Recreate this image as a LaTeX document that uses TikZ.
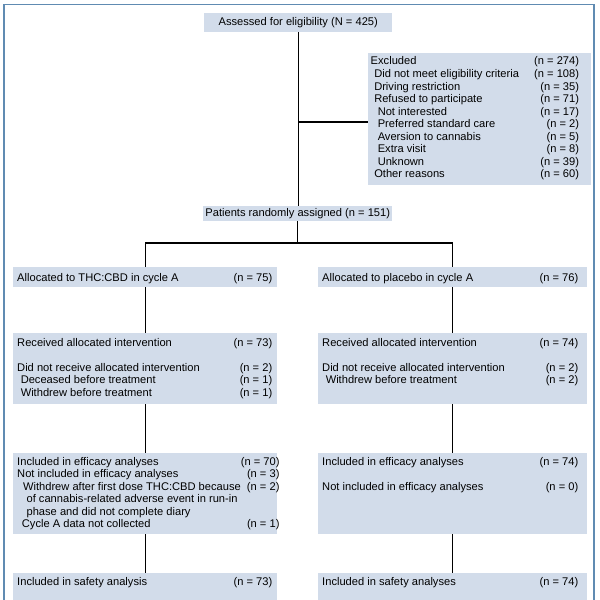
\documentclass[tikz,border=0pt]{standalone}
\usepackage{fontspec}
\setmainfont{Liberation Sans}
\definecolor{boxfill}{RGB}{210,220,234}
\definecolor{framecol}{RGB}{96,139,178}
\newcommand{\px}{0.03cm}
\newcommand{\counts}[2]{\begin{tabular*}{#1}[t]{@{}l@{\extracolsep{\fill}}r@{}}#2\end{tabular*}}
\tikzset{
  box/.style 2 args={fill=boxfill, inner sep=0pt, anchor=north west,
    minimum width=#1*\px, minimum height=#2*\px},
  rows/.style={anchor=base west, inner sep=0pt},
  link/.style={line width=1.1pt},
  frame/.style={draw=framecol, line width=0.9pt}
}
\begin{document}
\begin{tikzpicture}[x=0.03cm, y=-0.03cm, font=\fontsize{9.5}{10.7}\selectfont, text=black]
    % 1. Khung ngoai
    \path[use as bounding box] (0,0) rectangle (600,600);
    \clip (0,0) rectangle (600,600);
    \draw[frame] (4,610) -- (4,4.5) -- (594,4.5) -- (594,610);

    % 2. Sang loc va loai tru
    \node[box={188}{19}] (assess) at (204,13) {Assessed for eligibility (N = 425)};
    \node[box={223}{132}] (excl) at (368,53) {};
    \node[rows] (exclt) at ([shift={(2.5,12)}]excl.north west) {\counts{6.25cm}{
        Excluded & (n = 274)\\
        \hspace{3pt}Did not meet eligibility criteria & (n = 108)\\
        \hspace{3pt}Driving restriction & (n = 35)\\
        \hspace{3pt}Refused to participate & (n = 71)\\
        \hspace{6pt}Not interested & (n = 17)\\
        \hspace{6pt}Preferred standard care & (n = 2)\\
        \hspace{6pt}Aversion to cannabis & (n = 5)\\
        \hspace{6pt}Extra visit & (n = 8)\\
        \hspace{6pt}Unknown & (n = 39)\\
        \hspace{3pt}Other reasons & (n = 60)}};
    \node[box={189}{15}] (rand) at (203,206) {Patients randomly assigned (n = 151)};

    % 3. Nhanh THC:CBD (trai)
    \node[box={264}{20}] (allocL) at (13,267) {};
    \node[rows] at ([shift={(4,14)}]allocL.north west) {\counts{7.65cm}{
        Allocated to THC:CBD in cycle A & (n = 75)}};
    \node[box={264}{71}] (recvL) at (13,333) {};
    \node[rows] at ([shift={(4,13)}]recvL.north west) {\counts{7.65cm}{
        Received allocated intervention & (n = 73)\\
        & \\
        Did not receive allocated intervention & (n = 2)\\
        \hspace{3pt}Deceased before treatment & (n = 1)\\
        \hspace{3pt}Withdrew before treatment & (n = 1)}};
    \node[box={264}{81}] (effL) at (13,453) {};
    \node[rows] at ([shift={(4,12)}]effL.north west) {\counts{7.65cm}{
        Included in efficacy analyses & (n = 70)\\
        Not included in efficacy analyses & (n = 3)\\
        \hspace{5pt}Withdrew after first dose THC:CBD because & (n = 2)\\
        \hspace{8pt}of cannabis-related adverse event in run-in & \\
        \hspace{8pt}phase and did not complete diary & \\
        \hspace{4pt}Cycle A data not collected & (n = 1)}};
    \node[box={264}{40}] (safeL) at (13,573) {};
    \node[rows] at ([shift={(4,12)}]safeL.north west) {\counts{7.65cm}{
        Included in safety analysis & (n = 73)}};

    % 4. Nhanh placebo (phai)
    \node[box={269}{20}] (allocR) at (318,267) {};
    \node[rows] at ([shift={(4,14)}]allocR.north west) {\counts{7.68cm}{
        Allocated to placebo in cycle A & (n = 76)}};
    \node[box={269}{71}] (recvR) at (318,333) {};
    \node[rows] at ([shift={(4,13)}]recvR.north west) {\counts{7.68cm}{
        Received allocated intervention & (n = 74)\\
        & \\
        Did not receive allocated intervention & (n = 2)\\
        \hspace{3pt}Withdrew before treatment & (n = 2)}};
    \node[box={269}{81}] (effR) at (318,453) {};
    \node[rows] at ([shift={(4,12)}]effR.north west) {\counts{7.68cm}{
        Included in efficacy analyses & (n = 74)\\
        & \\
        Not included in efficacy analyses & (n = 0)}};
    \node[box={269}{40}] (safeR) at (318,573) {};
    \node[rows] at ([shift={(4,12)}]safeR.north west) {\counts{7.68cm}{
        Included in safety analyses & (n = 74)}};

    % 5. Duong noi
    \coordinate (split) at (assess.south |- 0,122);
    \coordinate (fork) at (rand.south |- 0,243);
    \draw[link] (assess.south) -- (assess.south |- rand.north);
    \draw[link] (split) -- (split -| excl.west);
    \draw[link] (rand.south) -- (fork);
    \draw[link] (allocL.north) |- (fork) -| (allocR.north);
    \draw[link] (allocL) -- (recvL);
    \draw[link] (recvL) -- (effL);
    \draw[link] (effL) -- (safeL);
    \draw[link] (allocR) -- (recvR);
    \draw[link] (recvR) -- (effR);
    \draw[link] (effR) -- (safeR);
\end{tikzpicture}
\end{document}
